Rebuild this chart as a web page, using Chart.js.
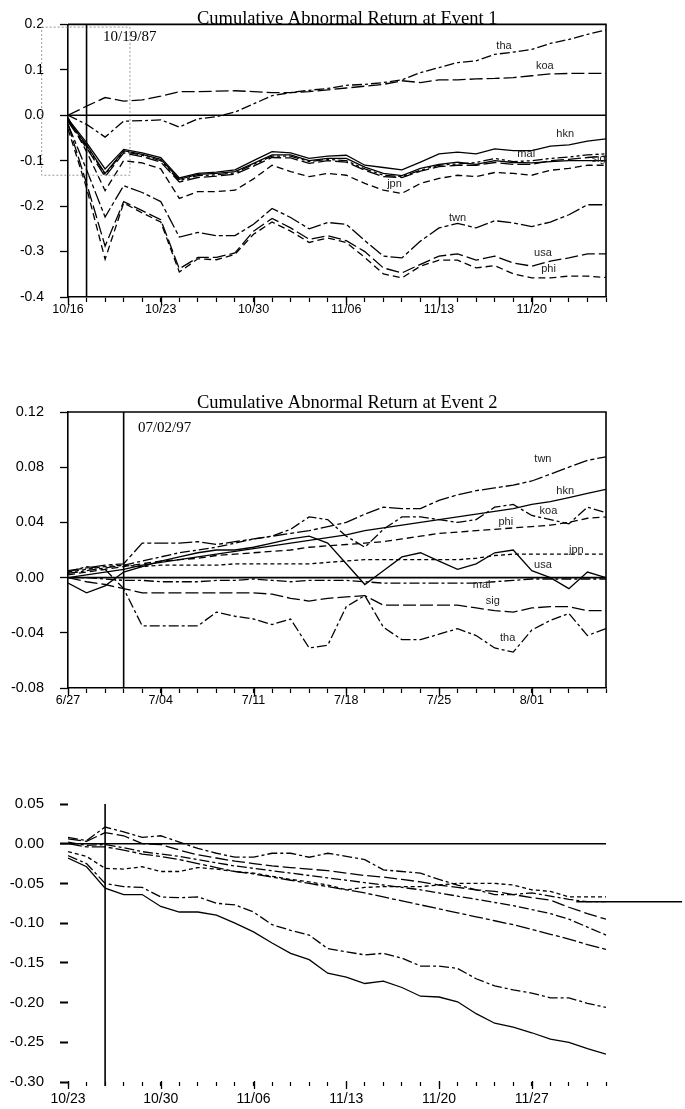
<!DOCTYPE html>
<html><head><meta charset="utf-8">
<script src="https://cdn.jsdelivr.net/npm/chart.js@4"></script>
<style>
body{margin:0;background:#fff;width:685px;height:1109px;overflow:hidden;position:relative}
canvas{position:absolute;left:0}
</style></head><body>
<canvas id="c1" width="685" height="330" style="top:0px"></canvas>
<canvas id="c2" width="685" height="340" style="top:380px"></canvas>
<canvas id="c3" width="685" height="369" style="top:740px"></canvas>
<script>
// ---------- Panel 1 : Event 1 (10/19/87) ----------
const p1Ticks = ['10/16','10/23','10/30','11/06','11/13','11/20'];
const p1_tha = [0,-0.02,-0.048,-0.013,-0.012,-0.01,-0.026,-0.008,-0.003,0.007,0.025,0.043,0.05,0.055,0.059,0.066,0.068,0.072,0.078,0.094,0.105,0.116,0.12,0.134,0.139,0.145,0.158,0.167,0.178,0.188];
const p1_koa = [0,0.02,0.039,0.031,0.034,0.042,0.052,0.052,0.053,0.054,0.052,0.05,0.05,0.052,0.056,0.06,0.064,0.068,0.076,0.072,0.078,0.078,0.08,0.081,0.083,0.087,0.091,0.092,0.092,0.092];
const p1_hkn = [-0.008,-0.06,-0.118,-0.075,-0.083,-0.093,-0.138,-0.128,-0.125,-0.12,-0.1,-0.08,-0.083,-0.095,-0.09,-0.088,-0.11,-0.115,-0.12,-0.103,-0.085,-0.081,-0.085,-0.074,-0.078,-0.078,-0.068,-0.065,-0.057,-0.052];
const p1_oth = [-0.012,-0.065,-0.128,-0.078,-0.086,-0.097,-0.141,-0.13,-0.128,-0.124,-0.106,-0.087,-0.087,-0.1,-0.095,-0.095,-0.114,-0.128,-0.133,-0.117,-0.108,-0.103,-0.108,-0.1,-0.104,-0.105,-0.102,-0.1,-0.1,-0.1];
const p1_mal = [-0.01,-0.068,-0.13,-0.08,-0.088,-0.1,-0.144,-0.133,-0.131,-0.127,-0.108,-0.09,-0.09,-0.102,-0.097,-0.1,-0.118,-0.132,-0.135,-0.121,-0.11,-0.107,-0.104,-0.095,-0.102,-0.1,-0.095,-0.092,-0.087,-0.085];
const p1_sig = [-0.014,-0.072,-0.135,-0.083,-0.091,-0.103,-0.147,-0.137,-0.134,-0.13,-0.112,-0.093,-0.094,-0.106,-0.1,-0.103,-0.121,-0.135,-0.137,-0.123,-0.113,-0.11,-0.11,-0.104,-0.108,-0.108,-0.1,-0.097,-0.093,-0.09];
const p1_jpn = [-0.005,-0.08,-0.166,-0.1,-0.105,-0.118,-0.183,-0.168,-0.168,-0.165,-0.14,-0.11,-0.124,-0.135,-0.128,-0.132,-0.15,-0.165,-0.172,-0.15,-0.139,-0.132,-0.135,-0.126,-0.128,-0.132,-0.121,-0.117,-0.11,-0.11];
const p1_twn = [-0.02,-0.12,-0.224,-0.155,-0.17,-0.19,-0.268,-0.258,-0.265,-0.265,-0.24,-0.205,-0.225,-0.25,-0.236,-0.24,-0.276,-0.31,-0.314,-0.277,-0.248,-0.238,-0.248,-0.232,-0.237,-0.245,-0.235,-0.219,-0.197,-0.197];
const p1_usa = [-0.02,-0.15,-0.288,-0.19,-0.21,-0.23,-0.338,-0.313,-0.313,-0.303,-0.255,-0.227,-0.248,-0.273,-0.265,-0.276,-0.3,-0.336,-0.347,-0.328,-0.31,-0.305,-0.319,-0.31,-0.325,-0.332,-0.321,-0.314,-0.305,-0.305];
const p1_phi = [-0.03,-0.16,-0.317,-0.193,-0.215,-0.235,-0.345,-0.316,-0.318,-0.306,-0.262,-0.235,-0.255,-0.28,-0.27,-0.28,-0.313,-0.349,-0.358,-0.332,-0.319,-0.319,-0.336,-0.331,-0.349,-0.358,-0.358,-0.354,-0.354,-0.357];
const p1_event = 1;
const p1_boxX = [-1.42, 3.34];
const p1_boxY = [0.194, -0.132];

// ---------- Panel 2 : Event 2 (07/02/97) ----------
const p2Ticks = ['6/27','7/04','7/11','7/18','7/25','8/01'];
const p2_twn = [0.005,0.007,0.009,0.01,0.025,0.025,0.025,0.026,0.024,0.026,0.028,0.03,0.032,0.034,0.037,0.04,0.046,0.051,0.05,0.05,0.056,0.06,0.063,0.065,0.067,0.07,0.075,0.08,0.085,0.0875];
const p2_hkn = [0.0,0.002,0.004,0.006,0.009,0.011,0.013,0.015,0.017,0.019,0.021,0.023,0.025,0.027,0.029,0.031,0.034,0.036,0.038,0.04,0.042,0.044,0.046,0.048,0.05,0.053,0.055,0.058,0.061,0.064];
const p2_koa = [0.003,0.005,0.007,0.009,0.012,0.015,0.018,0.02,0.022,0.025,0.028,0.03,0.035,0.044,0.042,0.03,0.022,0.035,0.044,0.044,0.042,0.04,0.042,0.051,0.053,0.045,0.042,0.039,0.051,0.047];
const p2_phi = [0.002,0.004,0.006,0.008,0.01,0.012,0.013,0.014,0.016,0.017,0.018,0.019,0.02,0.022,0.023,0.024,0.025,0.026,0.028,0.03,0.032,0.033,0.034,0.035,0.036,0.037,0.038,0.04,0.043,0.044];
const p2_jpn = [0.004,0.006,0.008,0.009,0.008,0.009,0.009,0.009,0.009,0.01,0.01,0.01,0.01,0.01,0.011,0.012,0.013,0.013,0.013,0.013,0.013,0.013,0.014,0.016,0.017,0.017,0.017,0.017,0.017,0.017];
const p2_usa = [-0.004,-0.011,-0.006,0.004,0.008,0.012,0.015,0.018,0.02,0.02,0.022,0.025,0.028,0.03,0.025,0.01,-0.005,0.005,0.015,0.018,0.012,0.006,0.01,0.018,0.02,0.005,0.0,-0.008,0.004,0.0];
const p2_mal = [0.0,0.0,-0.001,-0.002,-0.002,-0.003,-0.003,-0.003,-0.002,-0.002,-0.001,-0.002,-0.003,-0.002,-0.002,-0.002,-0.003,-0.004,-0.004,-0.004,-0.004,-0.004,-0.004,-0.003,-0.002,-0.001,-0.001,-0.001,-0.001,-0.001];
const p2_sig = [0.0,-0.003,-0.005,-0.008,-0.011,-0.011,-0.011,-0.011,-0.011,-0.011,-0.011,-0.012,-0.015,-0.017,-0.015,-0.014,-0.013,-0.02,-0.02,-0.02,-0.02,-0.02,-0.022,-0.024,-0.025,-0.022,-0.021,-0.021,-0.024,-0.024];
const p2_tha = [0.004,0.008,0.006,-0.008,-0.035,-0.035,-0.035,-0.035,-0.025,-0.028,-0.03,-0.034,-0.03,-0.051,-0.049,-0.021,-0.013,-0.036,-0.045,-0.045,-0.041,-0.037,-0.042,-0.051,-0.054,-0.038,-0.031,-0.026,-0.042,-0.037];
const p2_event = 3;

// ---------- Panel 3 : Event 3 (10/27/97) ----------
const p3Ticks = ['10/23','10/30','11/06','11/13','11/20','11/27'];
const p3_a = [-0.01,-0.016,-0.031,-0.032,-0.029,-0.035,-0.035,-0.03,-0.032,-0.035,-0.037,-0.041,-0.045,-0.048,-0.052,-0.058,-0.055,-0.054,-0.054,-0.054,-0.052,-0.05,-0.05,-0.05,-0.052,-0.058,-0.06,-0.067,-0.067,-0.067];
const p3_b = [0.008,0.004,0.021,0.015,0.008,0.01,0.002,-0.006,-0.012,-0.017,-0.017,-0.012,-0.012,-0.017,-0.012,-0.016,-0.02,-0.033,-0.035,-0.037,-0.045,-0.052,-0.058,-0.064,-0.064,-0.062,-0.066,-0.07,-0.073,-0.073];
const p3_c = [0.006,0.003,0.014,0.01,0.0,-0.001,-0.008,-0.014,-0.018,-0.022,-0.025,-0.028,-0.03,-0.032,-0.034,-0.037,-0.04,-0.042,-0.045,-0.048,-0.052,-0.055,-0.058,-0.06,-0.064,-0.068,-0.071,-0.08,-0.088,-0.095];
const p3_d = [0.002,-0.002,-0.001,-0.005,-0.01,-0.013,-0.016,-0.02,-0.024,-0.028,-0.031,-0.034,-0.037,-0.04,-0.043,-0.046,-0.049,-0.052,-0.055,-0.058,-0.062,-0.066,-0.07,-0.074,-0.078,-0.083,-0.088,-0.095,-0.105,-0.115];
const p3_e = [0.0,-0.004,-0.004,-0.008,-0.013,-0.016,-0.02,-0.025,-0.03,-0.035,-0.038,-0.042,-0.046,-0.05,-0.054,-0.058,-0.062,-0.067,-0.072,-0.077,-0.082,-0.087,-0.092,-0.097,-0.102,-0.108,-0.114,-0.12,-0.127,-0.133];
const p3_f = [-0.015,-0.025,-0.05,-0.054,-0.055,-0.067,-0.068,-0.067,-0.075,-0.077,-0.086,-0.102,-0.109,-0.115,-0.132,-0.136,-0.14,-0.138,-0.144,-0.154,-0.154,-0.157,-0.17,-0.179,-0.184,-0.188,-0.194,-0.194,-0.201,-0.206];
const p3_g = [-0.018,-0.029,-0.056,-0.064,-0.064,-0.079,-0.086,-0.086,-0.09,-0.1,-0.111,-0.125,-0.138,-0.146,-0.163,-0.168,-0.176,-0.173,-0.181,-0.192,-0.193,-0.199,-0.214,-0.226,-0.231,-0.238,-0.246,-0.25,-0.258,-0.265];
const p3_event = 2;
const p3_strayX = [27.4, 33.1];
const p3_strayY = -0.073;

// ---------- helpers ----------
const SANS = "'Liberation Sans', Arial, sans-serif";
const SERIF = "'Liberation Serif', 'Times New Roman', serif";
const DASH = {solid:[], long:[13,4], dash:[7,4], short:[4,3], dd:[10,3,3,3], ddd:[10,3,3,3,3,3], ldd:[14,3,4,3]};
const pts = arr => arr.map((v,i)=>({x:i,y:v}));
function line(data, dash, w, extra){ return Object.assign({data, borderColor:'#000', borderWidth:w||1.3, borderDash:DASH[dash]||[], pointRadius:0, fill:false, tension:0}, extra||{}); }

const framePlugin = {id:'frame', afterDatasetsDraw(chart,args,o){ if(!o.on) return; const a=chart.chartArea,c=chart.ctx; c.save(); c.strokeStyle='#000'; c.lineWidth=1.6; c.beginPath(); c.moveTo(a.left,a.top); c.lineTo(a.right,a.top); c.lineTo(a.right,a.bottom); c.stroke(); c.restore(); }};
const majorPlugin = {id:'major', afterDraw(chart,args,o){ if(!o.on) return; const xs=chart.scales.x,a=chart.chartArea,c=chart.ctx; c.save(); c.strokeStyle='#000'; c.lineWidth=o.w||1.3; for(let i=0;i<=29;i+=5){ const x=Math.round(xs.getPixelForValue(i))+0.5; c.beginPath(); c.moveTo(x,a.bottom+o.from); c.lineTo(x,a.bottom+o.to); c.stroke(); } c.restore(); }};
const textPlugin = {id:'texts', afterDraw(chart,args,o){ const c=chart.ctx,xs=chart.scales.x,ys=chart.scales.y; (o.items||[]).forEach(t=>{ c.save(); c.font=t.font; c.fillStyle=t.color||'#000'; c.textAlign=t.align||'center'; c.textBaseline=t.base||'middle'; c.fillText(t.text, xs.getPixelForValue(t.x), ys.getPixelForValue(t.y)); c.restore(); }); }};

function makeChart(id, o){
  const H = o.canvasH, T = o.areaTop, B = o.areaBottom;
  return new Chart(document.getElementById(id), {
    type:'line',
    data:{datasets:o.datasets},
    plugins:[framePlugin, majorPlugin, textPlugin],
    options:{
      responsive:false, animation:false, devicePixelRatio:1,
      layout:{padding:{top:T, right:79, left:0, bottom:0}},
      plugins:{legend:{display:false}, tooltip:{enabled:false}, title:{display:false},
        frame:{on:o.frame}, major:o.major, texts:{items:o.texts}},
      scales:{
        x:{type:'linear', min:0, max:29,
          afterFit:s=>{s.height=H-B;},
          border:{display:o.axisLine, color:'#000', width:1.6},
          grid:{display:true, drawOnChartArea:false, drawTicks:true, tickLength:o.xTick, color:'#000', tickWidth:1.2},
          ticks:{stepSize:1, autoSkip:false, maxRotation:0, padding:o.xPad, color:'#000', font:{family:SANS, size:o.xFont},
            callback:v=> (v%5===0 && o.xLabels[v/5]) ? o.xLabels[v/5] : ''}},
        y:{min:o.yMin, max:o.yMax,
          afterFit:s=>{s.width=68;},
          border:{display:o.axisLine, color:'#000', width:1.6},
          grid:{display:true, drawOnChartArea:false, drawTicks:true, tickLength:8, color:'#000', tickWidth:o.yTickW},
          ticks:{stepSize:o.yStep, padding:16, color:'#000', font:{family:SANS, size:o.yFont},
            callback:v=> (Math.abs(v)<1e-9?0:v).toFixed(o.yDec)}}
      }
    }
  });
}

const LBL = "11px " + SANS;
// Panel 1
makeChart('c1', {
  canvasH:330, areaTop:21, areaBottom:297, frame:true, axisLine:true,
  yMin:-0.4, yMax:0.2, yStep:0.1, yDec:1, yFont:14, yTickW:1.3,
  xLabels:p1Ticks, xTick:5, xPad:0, xFont:12.5, major:{on:true, from:0, to:8},
  datasets:[
    line([{x:0,y:0},{x:29,y:0}],'solid',1.6),
    line([{x:p1_event,y:0.2},{x:p1_event,y:-0.4}],'solid',1.6),
    line([{x:p1_boxX[0],y:p1_boxY[0]},{x:p1_boxX[1],y:p1_boxY[0]},{x:p1_boxX[1],y:p1_boxY[1]},{x:p1_boxX[0],y:p1_boxY[1]},{x:p1_boxX[0],y:p1_boxY[0]}],'solid',1,{borderColor:'#999', borderDash:[2,2], clip:false}),
    line(pts(p1_tha),'dd'), line(pts(p1_koa),'long'),
    line(pts(p1_hkn),'solid'), line(pts(p1_oth),'solid'), line(pts(p1_mal),'ddd'), line(pts(p1_sig),'long'),
    line(pts(p1_jpn),'dash'), line(pts(p1_twn),'ldd'), line(pts(p1_usa),'long'), line(pts(p1_phi),'dash')
  ],
  texts:[
    {text:'Cumulative Abnormal Return at Event 1', x:15.05, y:0.2015, font:'18.5px '+SERIF, base:'alphabetic'},
    {text:'10/19/87', x:1.89, y:0.172, font:'15px '+SERIF, align:'left'},
    {text:'tha', x:23.5, y:0.153, font:LBL, color:'#222'},
    {text:'koa', x:25.7, y:0.109, font:LBL, color:'#222'},
    {text:'hkn', x:26.8, y:-0.041, font:LBL, color:'#222'},
    {text:'mal', x:24.7, y:-0.085, font:LBL, color:'#222'},
    {text:'sig', x:28.6, y:-0.096, font:LBL, color:'#222'},
    {text:'jpn', x:17.6, y:-0.151, font:LBL, color:'#222'},
    {text:'twn', x:21.0, y:-0.227, font:LBL, color:'#222'},
    {text:'usa', x:25.6, y:-0.304, font:LBL, color:'#222'},
    {text:'phi', x:25.9, y:-0.338, font:LBL, color:'#222'}
  ]
});
// Panel 2
makeChart('c2', {
  canvasH:340, areaTop:32, areaBottom:308, frame:true, axisLine:true,
  yMin:-0.08, yMax:0.12, yStep:0.04, yDec:2, yFont:14.5, yTickW:1.3,
  xLabels:p2Ticks, xTick:5, xPad:0, xFont:12.5, major:{on:true, from:0, to:8},
  datasets:[
    line([{x:0,y:0},{x:29,y:0}],'solid',1.6),
    line([{x:p2_event,y:0.12},{x:p2_event,y:-0.08}],'solid',1.6),
    line(pts(p2_twn),'ldd'), line(pts(p2_hkn),'solid'), line(pts(p2_koa),'dd'), line(pts(p2_phi),'dash'),
    line(pts(p2_jpn),'short'), line(pts(p2_usa),'solid'), line(pts(p2_mal),'dd'), line(pts(p2_sig),'long'), line(pts(p2_tha),'dd')
  ],
  texts:[
    {text:'Cumulative Abnormal Return at Event 2', x:15.05, y:0.1228, font:'18.5px '+SERIF, base:'alphabetic'},
    {text:'07/02/97', x:3.77, y:0.1085, font:'15px '+SERIF, align:'left'},
    {text:'twn', x:25.6, y:0.086, font:LBL, color:'#222'},
    {text:'hkn', x:26.8, y:0.063, font:LBL, color:'#222'},
    {text:'koa', x:25.9, y:0.048, font:LBL, color:'#222'},
    {text:'phi', x:23.6, y:0.0405, font:LBL, color:'#222'},
    {text:'jpn', x:27.4, y:0.020, font:LBL, color:'#222'},
    {text:'usa', x:25.6, y:0.0094, font:LBL, color:'#222'},
    {text:'mal', x:22.3, y:-0.005, font:LBL, color:'#222'},
    {text:'sig', x:22.9, y:-0.0166, font:LBL, color:'#222'},
    {text:'tha', x:23.7, y:-0.044, font:LBL, color:'#222'}
  ]
});
// Panel 3
makeChart('c3', {
  canvasH:369, areaTop:64, areaBottom:342, frame:false, axisLine:false,
  yMin:-0.30, yMax:0.05, yStep:0.05, yDec:2, yFont:15, yTickW:2,
  xLabels:p3Ticks, xTick:4, xPad:5, xFont:14, major:{on:true, from:-1, to:7},
  datasets:[
    line([{x:-0.43,y:0},{x:29,y:0}],'solid',1.6,{clip:false}),
    line([{x:p3_event,y:0.05},{x:p3_event,y:-0.305}],'solid',1.6,{clip:false}),
    line([{x:p3_strayX[0],y:p3_strayY},{x:p3_strayX[1],y:p3_strayY}],'solid',1.6,{clip:false}),
    line(pts(p3_a),'short'), line(pts(p3_b),'dd'), line(pts(p3_c),'long'), line(pts(p3_d),'dd'),
    line(pts(p3_e),'ldd'), line(pts(p3_f),'dd'), line(pts(p3_g),'solid')
  ],
  texts:[]
});
</script>
</body></html>
